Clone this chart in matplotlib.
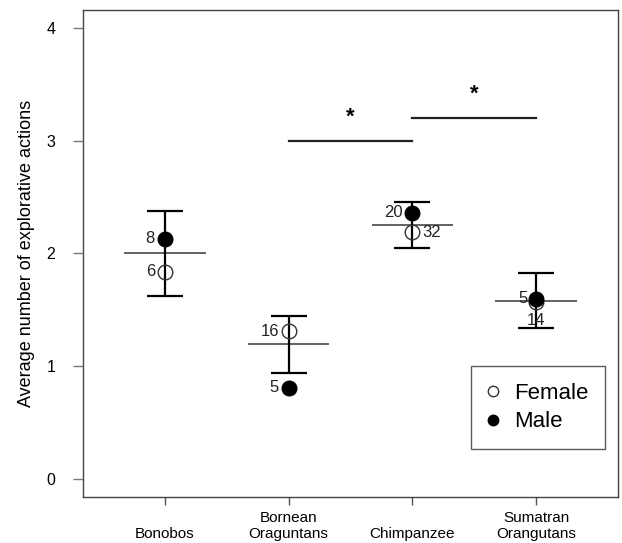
import matplotlib
matplotlib.use("Agg")
import matplotlib.pyplot as plt
from matplotlib.lines import Line2D

plt.rcParams['font.family'] = ['Liberation Sans', 'DejaVu Sans']

# data
species = ['Bonobos', 'Bornean\nOraguntans', 'Chimpanzee', 'Sumatran\nOrangutans']
tick_labels = ['\nBonobos', 'Bornean\nOraguntans', '\nChimpanzee', 'Sumatran\nOrangutans']
group_mean = [2.00, 1.20, 2.25, 1.58]
err_low = [1.62, 0.94, 2.05, 1.34]
err_high = [2.38, 1.45, 2.46, 1.83]
female_mean = [1.84, 1.31, 2.19, 1.57]
male_mean = [2.13, 0.81, 2.36, 1.60]
n_female = [6, 16, 32, 14]
n_male = [8, 5, 20, 5]

# significance brackets: (from group, to group, height)
sig_pairs = [(2, 3, 3.0), (3, 4, 3.2)]

# label offsets in points (female, male)
fem_off = [(-7, 0), (-7, 0), (7, 0), (0, -13)]
male_off = [(-7, 0), (-7, 0), (-7, 0), (-6, 0)]
fem_ha = ['right', 'right', 'left', 'center']
male_ha = ['right', 'right', 'right', 'right']

fig = plt.figure(figsize=(6.22, 5.43), dpi=100)
ax = fig.add_axes([0.1334, 0.0847, 0.8602, 0.8969])

x = list(range(1, len(species) + 1))

# mean lines
ax.hlines(group_mean, [i - 0.33 for i in x], [i + 0.33 for i in x],
          color='#555555', lw=1.3, zorder=1)
# error bars
ax.errorbar(x, group_mean,
            yerr=[[m - l for m, l in zip(group_mean, err_low)],
                  [h - m for m, h in zip(group_mean, err_high)]],
            fmt='none', ecolor='black', elinewidth=1.6, capsize=13,
            capthick=1.6, zorder=2)

ax.plot(x, female_mean, 'o', ms=10.5, mfc='none', mec='#333333', mew=1.0,
        zorder=3)
ax.plot(x, male_mean, 'o', ms=10.5, mfc='black', mec='black', zorder=3)

for i in range(len(x)):
    ax.annotate(str(n_female[i]), (x[i], female_mean[i]), xytext=fem_off[i],
                textcoords='offset points', ha=fem_ha[i], va='center',
                fontsize=12, color='#222222')
    ax.annotate(str(n_male[i]), (x[i], male_mean[i]), xytext=male_off[i],
                textcoords='offset points', ha=male_ha[i], va='center',
                fontsize=12, color='#222222')

for a, b, h in sig_pairs:
    ax.plot([a, b], [h, h], color='#222222', lw=1.6)
    ax.text((a + b) / 2, h + 0.21, '*', ha='center', va='center',
            fontsize=16, fontweight='bold')

ax.set_xlim(0.34, 4.66)
ax.set_ylim(-0.16, 4.16)
ax.set_xticks(x)
ax.set_xticklabels(tick_labels, fontsize=11, linespacing=1.15)
ax.set_yticks([0, 1, 2, 3, 4])
ax.set_yticklabels(['0', '1', '2', '3', '4'], fontsize=11.5)
ax.tick_params(axis='y', length=7, width=1, color='#777777', pad=13)
ax.tick_params(axis='x', length=6, width=1, color='#555555', pad=4)
for s in ax.spines.values():
    s.set_color('#444444')
    s.set_linewidth(1.0)
ax.set_ylabel('Average number of explorative actions', fontsize=13,
              labelpad=8)

handles = [Line2D([], [], marker='o', ls='none', ms=7.5, mfc='white',
                  mec='#333333', label='Female'),
           Line2D([], [], marker='o', ls='none', ms=7.5, mfc='black',
                  mec='black', label='Male')]
leg = ax.legend(handles=handles, loc='upper right',
                bbox_to_anchor=(0.976, 0.269), fontsize=16, frameon=True,
                fancybox=False, borderaxespad=0, handletextpad=0.7,
                handlelength=0.5, labelspacing=0.35, borderpad=0.75)
leg.get_frame().set_edgecolor('#333333')
leg.get_frame().set_linewidth(1.0)

fig.savefig('out.png', dpi=100)
